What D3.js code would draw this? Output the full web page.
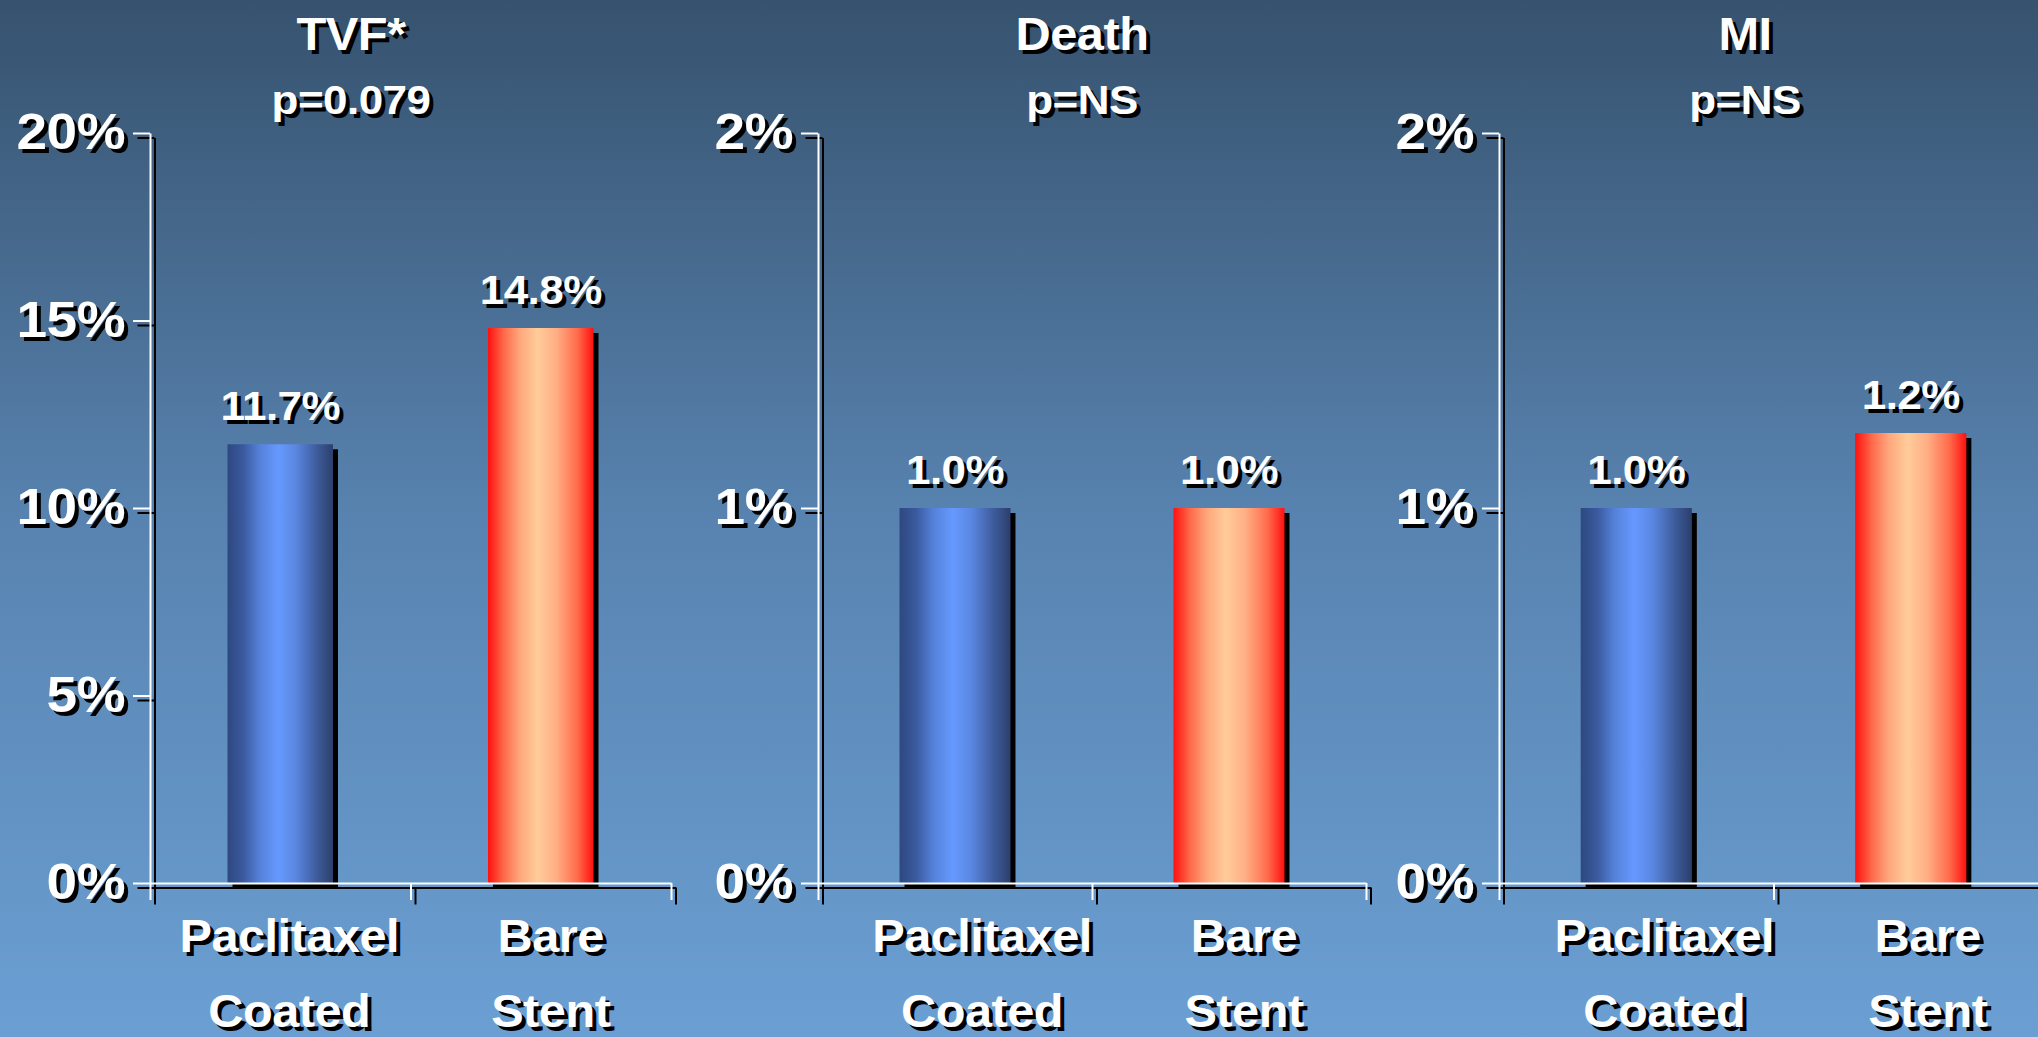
<!DOCTYPE html>
<html>
<head>
<meta charset="utf-8">
<script src="https://cdn.jsdelivr.net/npm/d3@7"></script>
<style>
  html, body { margin: 0; padding: 0; overflow: hidden; background: #4f78a3; }
  svg { display: block; }
</style>
</head>
<body>
<svg id="chart" width="2038" height="1037"></svg>
<script>
// Clinical outcomes: paclitaxel-coated stent vs bare stent
const panelTitles = ["TVF*", "Death", "MI"];
const pLabels = ["p=0.079", "p=NS", "p=NS"];
const categories = ["Paclitaxel Coated", "Bare Stent"];
const tvfRates = [11.7, 14.8];
const deathRates = [1.0, 1.0];
const miRates = [1.0, 1.2];
const axisMax = [20, 2, 2];
const tickValues = [[0, 5, 10, 15, 20], [0, 1, 2], [0, 1, 2]];

const seriesByPanel = [tvfRates, deathRates, miRates];

// ---- layout ----
const W = 2038, H = 1037;
const yBase = 883, yTop = 133;
const frames = [
  { x0: 150,  x1: 671,  titleX: 351,  catDx: [9, 10] },
  { x0: 818,  x1: 1366, titleX: 1082, catDx: [27, 15] },
  { x0: 1499, x1: 2048, titleX: 1745, catDx: [28, 17] }
];
const FONT = "'Liberation Sans', Arial, Helvetica, sans-serif";
const SHADOW = 5;      // drop-shadow offset
const TICK = 17;

const svg = d3.select("#chart");
const defs = svg.append("defs");

// background: slate blue at the top fading to light steel blue
const bg = defs.append("linearGradient").attr("id", "bg")
  .attr("x1", 0).attr("y1", 0).attr("x2", 0).attr("y2", 1);
[[0, "#36526e"], [0.5, "#5883b0"], [1, "#6b9fd3"]].forEach(([o, c]) =>
  bg.append("stop").attr("offset", o).attr("stop-color", c));

// cylinder-like bar fills
function barGradient(id, stops) {
  const g = defs.append("linearGradient").attr("id", id)
    .attr("x1", 0).attr("y1", 0).attr("x2", 1).attr("y2", 0);
  stops.forEach(([o, c]) => g.append("stop").attr("offset", o).attr("stop-color", c));
}
barGradient("gradCoated", [[0, "#2e4880"], [0.15, "#3a5a9e"], [0.3, "#5480d8"], [0.48, "#6699ff"],
                           [0.65, "#5a86e0"], [0.85, "#3d5b9a"], [1, "#2c3f6c"]]);
barGradient("gradBare", [[0, "#ff1010"], [0.15, "#ff6a4a"], [0.3, "#ffa67c"], [0.47, "#ffcc99"],
                         [0.65, "#ffae84"], [0.85, "#ff6a4a"], [1, "#ff1010"]]);
const barFills = ["url(#gradCoated)", "url(#gradBare)"];

svg.append("rect").attr("width", W).attr("height", H).attr("fill", "url(#bg)");

// white bold lettering, slightly stretched horizontally, over a black copy as its shadow
function shadowText(parent, x, y, str, size, sx, anchor = "middle", off = 4) {
  const g = parent.append("g")
    .attr("transform", `translate(${x},${y}) scale(${sx},1)`)
    .attr("font-family", FONT).attr("font-weight", "bold")
    .attr("font-size", size).attr("text-anchor", anchor)
    .attr("letter-spacing", "-0.5");
  g.append("text").attr("x", off / sx).attr("y", off).attr("fill", "#000").text(str);
  g.append("text").attr("fill", "#fff").text(str);
  return g;
}

frames.forEach((f, i) => {
  const values = seriesByPanel[i];
  const panel = svg.append("g").attr("class", "panel");

  const y = d3.scaleLinear().domain([0, axisMax[i]]).range([yBase, yTop]);
  const x = d3.scaleBand().domain(categories).range([f.x0, f.x1])
    .paddingInner(0.595).paddingOuter(0.2975);
  const slot = d3.scaleLinear().domain([0, categories.length]).range([f.x0, f.x1]);

  // bar shadows then bars
  panel.selectAll("rect.shadow").data(values).join("rect").attr("class", "shadow")
    .attr("x", (d, k) => x(categories[k]) + SHADOW)
    .attr("y", d => y(d) + SHADOW)
    .attr("width", x.bandwidth())
    .attr("height", d => yBase - y(d))
    .attr("fill", "#000");
  panel.selectAll("rect.bar").data(values).join("rect").attr("class", "bar")
    .attr("x", (d, k) => x(categories[k]))
    .attr("y", d => y(d))
    .attr("width", x.bandwidth())
    .attr("height", d => yBase - y(d))
    .attr("fill", (d, k) => barFills[k]);

  // axes: black copy offset first, white on top
  [["#000", SHADOW - 0.5], ["#fff", 0]].forEach(([color, off]) => {
    const ax = panel.append("g").attr("transform", `translate(${off},${off})`);
    const yAxis = ax.append("g").attr("transform", `translate(${f.x0},0)`)
      .call(d3.axisLeft(y).tickValues(tickValues[i]).tickSize(TICK).tickSizeOuter(0).tickFormat(""));
    const xAxis = ax.append("g").attr("transform", `translate(0,${yBase})`)
      .call(d3.axisBottom(slot).tickValues(d3.range(categories.length + 1))
        .tickSize(TICK).tickSizeOuter(0).tickFormat(""));
    [yAxis, xAxis].forEach(a => {
      a.select(".domain").attr("stroke", color).attr("stroke-width", 2);
      a.selectAll(".tick line").attr("stroke", color).attr("stroke-width", 2);
    });
  });

  // y tick labels
  tickValues[i].forEach(t => {
    shadowText(panel, f.x0 - TICK - 8, y(t) + 16, t + "%", 50, 1.1, "end");
  });

  // value labels above bars
  values.forEach((v, k) => {
    const cx = x(categories[k]) + x.bandwidth() / 2;
    shadowText(panel, cx, y(v) - 24, v.toFixed(1) + "%", 40, 1.1);
  });

  // category labels (two lines)
  categories.forEach((c, k) => {
    const cx = x(c) + x.bandwidth() / 2 + f.catDx[k];
    c.split(" ").forEach((word, line) => {
      shadowText(panel, cx, 952 + line * 75, word, 46, 1.06);
    });
  });

  // title and p-value
  shadowText(panel, f.titleX, 50, panelTitles[i], 46, 1.06, "middle", 4);
  shadowText(panel, f.titleX, 114, pLabels[i], 40, 1.1);
});
</script>
</body>
</html>
